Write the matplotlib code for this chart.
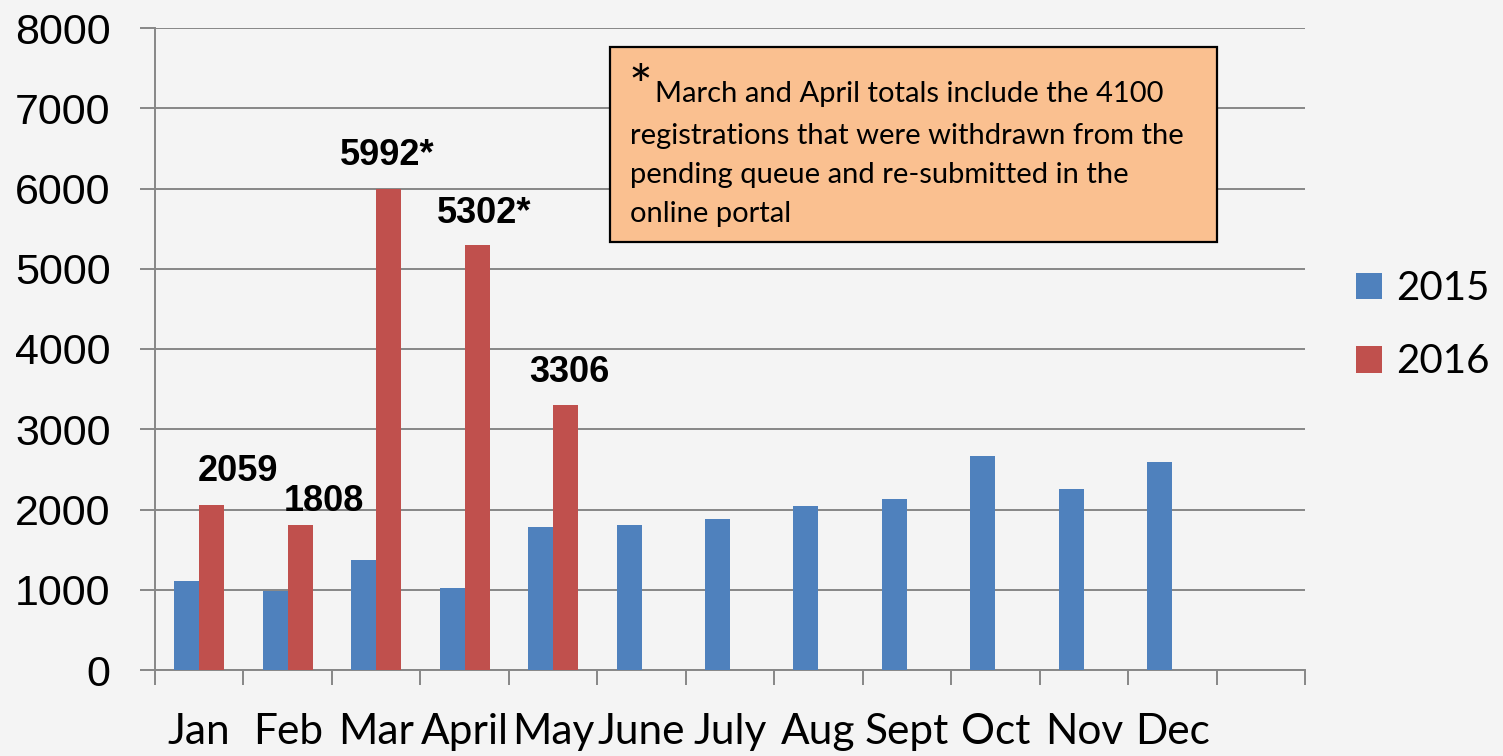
import matplotlib
matplotlib.use("Agg")
import matplotlib.pyplot as plt
from matplotlib.patches import Rectangle
import numpy as np

months = ["Jan", "Feb", "Mar", "April", "May", "June", "July",
          "Aug", "Sept", "Oct", "Nov", "Dec"]
vals_2015 = [1110, 985, 1375, 1025, 1785, 1805, 1880, 2045, 2130, 2665, 2255, 2595]
vals_2016 = [2059, 1808, 5992, 5302, 3306]
labels_2016 = ["2059", "1808", "5992*", "5302*", "3306"]
# hand-placed label offsets (points) as in the original slide
label_offsets = [(19, 24), (17, 17), (-1, 24), (5, 22), (3, 23)]
note = ("March and April totals include the 4100",
        "registrations that were withdrawn from the\n"
        "pending queue and re-submitted in the\n"
        "online portal")

BLUE = "#4f81bd"
RED = "#c0504d"
GRID = "#878787"
BG = "#f4f4f4"
LABEL_FONT = ["Lato", "DejaVu Sans"]

fig = plt.figure(figsize=(15.03, 7.56), dpi=100, facecolor=BG)
ax = fig.add_axes([155 / 1503, 1 - 670 / 756, 1150 / 1503, 642 / 756], facecolor=BG)

w = 0.283
x15 = np.arange(len(vals_2015))
x16 = np.arange(len(vals_2016))
ax.bar(x15 - w / 2, vals_2015, width=w, color=BLUE, label="2015", zorder=3)
ax.bar(x16 + w / 2, vals_2016, width=w, color=RED, label="2016", zorder=3)

for xi, v, txt, (dx, dy) in zip(x16, vals_2016, labels_2016, label_offsets):
    ax.annotate(txt, (xi + w / 2, v), xytext=(dx, dy), textcoords="offset points",
                ha="center", va="center", fontsize=26, fontweight="bold",
                family="Liberation Sans", zorder=4)

ax.set_xlim(-0.5, 12.5)
ax.set_ylim(0, 8000)
ax.set_yticks(range(0, 8001, 1000))
ax.set_xticks(range(len(months)))
ax.set_xticklabels(months, fontsize=30.5, family=LABEL_FONT)
ax.set_xticks(np.arange(-0.5, 12.6, 1), minor=True)
ax.tick_params(axis="x", which="major", length=0, pad=31)
ax.tick_params(axis="x", which="minor", length=11, width=1.4, color=GRID)
ax.tick_params(axis="y", length=11, width=1.4, color=GRID, pad=21, labelsize=31)
for t in ax.get_yticklabels():
    t.set_family("Liberation Sans")

ax.grid(axis="y", color=GRID, linewidth=1.4, zorder=0)
for s in ("top", "right"):
    ax.spines[s].set_visible(False)
for s in ("left", "bottom"):
    ax.spines[s].set_color(GRID)
    ax.spines[s].set_linewidth(1.4)

leg = fig.legend(loc="upper left", bbox_to_anchor=(1336 / 1503, 1 - 250 / 756),
                 frameon=False, prop={"family": LABEL_FONT, "size": 29},
                 handlelength=0.65, handleheight=0.65, handletextpad=0.35,
                 labelspacing=0.9, borderpad=0)

# the orange footnote box
fig.patches.append(Rectangle((610 / 1503, 1 - 242 / 756), 607 / 1503, 195 / 756,
                             transform=fig.transFigure, facecolor="#fac090",
                             edgecolor="black", linewidth=1.6, zorder=5))
fig.text(629 / 1503, 1 - 64 / 756, "*", fontsize=40, family=LABEL_FONT,
         va="top", zorder=6)
fig.text(655 / 1503, 1 - 94 / 756, note[0], fontsize=21, family=LABEL_FONT,
         va="center", zorder=6)
fig.text(630 / 1503, 1 - 123 / 756, note[1], fontsize=21, family=LABEL_FONT,
         va="top", linespacing=1.62, zorder=6)

fig.savefig("out.png", dpi=100, facecolor=BG)
